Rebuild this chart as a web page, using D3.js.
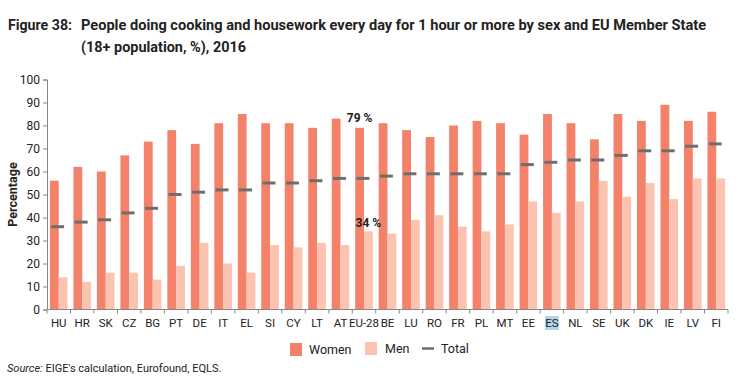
<!DOCTYPE html>
<html><head><meta charset="utf-8">
<script src="https://cdn.jsdelivr.net/npm/d3@7/dist/d3.min.js"></script>
<style>
body{margin:0;background:#fff;}
svg{display:block;}
text{font-family:"Liberation Sans Narrow","Roboto","Liberation Sans",sans-serif;fill:#222;}
</style></head>
<body>
<svg id="chart" width="740" height="389"></svg>
<script>
const categories = ["HU","HR","SK","CZ","BG","PT","DE","IT","EL","SI","CY","LT","AT","EU-28","BE","LU","RO","FR","PL","MT","EE","ES","NL","SE","UK","DK","IE","LV","FI"];
const women = [56,62,60,67,73,78,72,81,85,81,81,79,83,79,81,78,75,80,82,81,76,85,81,74,85,82,89,82,86];
const men   = [14,12,16,16,13,19,29,20,16,28,27,29,28,34,33,39,41,36,34,37,47,42,47,56,49,55,48,57,57];
const total = [36,38,39,42,44,50,51,52,52,55,55,56,57,57,58,59,59,59,59,59,63,64,65,65,67,69,69,71,72];
const yTicks = [0,10,20,30,40,50,60,70,80,90,100];
const seriesNames = ["Women","Men","Total"];
const colors = {Women:"#f4826a", Men:"#fcc4b0", Total:"#6e6e6e"};
const annotations = [{cat:"EU-28", series:"Women", value:79, label:"79 %"},{cat:"EU-28", series:"Men", value:34, label:"34 %"}];
const highlight = "ES";

const svg = d3.select("#chart");

// Title
const t1 = svg.append("text").attr("x",8).attr("y",30).attr("font-size",15).attr("font-weight","bold");
t1.text("Figure 38:").attr("textLength",64).attr("lengthAdjust","spacingAndGlyphs");
svg.append("text").attr("x",81).attr("y",30).attr("font-size",15).attr("font-weight","bold")
  .attr("textLength",625).attr("lengthAdjust","spacingAndGlyphs")
  .text("People doing cooking and housework every day for 1 hour or more by sex and EU Member State");
svg.append("text").attr("x",81).attr("y",52).attr("font-size",15).attr("font-weight","bold")
  .attr("textLength",165).attr("lengthAdjust","spacingAndGlyphs")
  .text("(18+ population, %), 2016");

const x = d3.scaleBand().domain(categories).range([47,728]).paddingInner(0.25).paddingOuter(0.125);
const xs = d3.scaleBand().domain(["Women","Men"]).range([0,x.bandwidth()]);
const y = d3.scaleLinear().domain([0,100]).range([309.5,79.5]);

// y axis
const yAxis = svg.append("g").attr("transform","translate(47,0)")
  .call(d3.axisLeft(y).tickValues(yTicks).tickSize(4).tickPadding(3));
yAxis.select(".domain").attr("stroke","#888");
yAxis.selectAll(".tick line").attr("stroke","#888");
yAxis.selectAll(".tick text").attr("font-size",12).attr("fill","#222");

svg.append("text").attr("transform","translate(17,"+y(50)+") rotate(-90)")
  .attr("text-anchor","middle").attr("font-size",12.5).attr("font-weight","bold").text("Percentage");

// bars
const g = svg.append("g");
g.selectAll("rect.w").data(categories).join("rect").attr("class","w")
  .attr("x",(d)=>x(d)+xs("Women")).attr("width",xs.bandwidth())
  .attr("y",(d,i)=>y(women[i])).attr("height",(d,i)=>y(0)-y(women[i]))
  .attr("fill",colors.Women);
g.selectAll("rect.m").data(categories).join("rect").attr("class","m")
  .attr("x",(d)=>x(d)+xs("Men")).attr("width",xs.bandwidth())
  .attr("y",(d,i)=>y(men[i])).attr("height",(d,i)=>y(0)-y(men[i]))
  .attr("fill",colors.Men);
g.selectAll("line.t").data(categories).join("line").attr("class","t")
  .attr("x1",(d)=>x(d)+1.2).attr("x2",(d)=>x(d)+14.2)
  .attr("y1",(d,i)=>y(total[i])).attr("y2",(d,i)=>y(total[i]))
  .attr("stroke",colors.Total).attr("stroke-width",3);

// x axis
const xa = svg.append("g");
const step = x.step();
const x0 = x.range()[0];
xa.append("line").attr("x1",x0).attr("x2",x.range()[1]).attr("y1",y(0)).attr("y2",y(0)).attr("stroke","#888");
d3.range(categories.length+1).forEach(i=>{
  const px = x0 + i*step;
  xa.append("line").attr("x1",px).attr("x2",px).attr("y1",y(0)).attr("y2",y(0)+4).attr("stroke","#888");
});
categories.forEach(c=>{
  const cx = x(c)+x.bandwidth()/2;
  if(c===highlight){
    xa.append("rect").attr("x",cx-7).attr("y",316).attr("width",14).attr("height",14).attr("fill","#b3d4ea");
  }
  xa.append("text").attr("x",cx).attr("y",327).attr("text-anchor","middle").attr("font-size",11.5).text(c);
});

// annotations
annotations.forEach(a=>{
  const cx = x(a.cat)+xs(a.series)+xs.bandwidth()/2;
  svg.append("text").attr("x",cx).attr("y",y(a.value)-(a.series==="Women"?6:4.5))
    .attr("text-anchor","middle").attr("font-size",12).attr("font-weight","bold").text(a.label);
});

// legend
const lg = svg.append("g");
lg.append("rect").attr("x",290).attr("y",343).attr("width",12).attr("height",13).attr("fill",colors.Women);
lg.append("text").attr("x",309).attr("y",354).attr("font-size",12.5).text(seriesNames[0]);
lg.append("rect").attr("x",365).attr("y",342).attr("width",12).attr("height",13).attr("fill",colors.Men);
lg.append("text").attr("x",385).attr("y",353).attr("font-size",12.5).text(seriesNames[1]);
lg.append("line").attr("x1",422).attr("x2",434).attr("y1",348.5).attr("y2",348.5).attr("stroke",colors.Total).attr("stroke-width",2.5);
lg.append("text").attr("x",441).attr("y",353).attr("font-size",12.5).text(seriesNames[2]);

// source
const src = svg.append("text").attr("x",7).attr("y",372).attr("font-size",11).attr("fill","#333");
src.append("tspan").attr("font-style","italic").text("Source:");
src.append("tspan").text(" EIGE's calculation, Eurofound, EQLS.");
</script>
</body></html>
